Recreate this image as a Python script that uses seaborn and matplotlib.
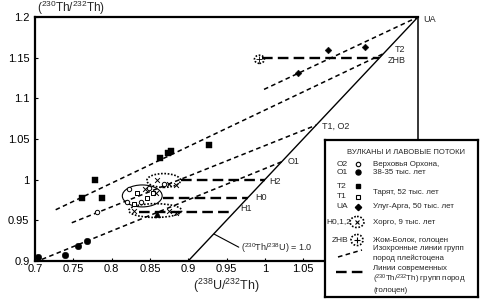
import pandas as pd
import seaborn as sns
import matplotlib.pyplot as plt
from matplotlib.patches import Ellipse
from matplotlib.ticker import FuncFormatter

# точки по группам (U/Th, Th/Th)
o1_x = [0.704, 0.739, 0.756, 0.768]
o1_y = [0.905, 0.907, 0.919, 0.925]
o2_x = [0.781, 0.823, 0.849, 0.838, 0.820, 0.868]
o2_y = [0.960, 0.988, 0.990, 0.972, 0.973, 0.995]
t1_x = [0.833, 0.854, 0.829, 0.846]
t1_y = [0.983, 0.984, 0.970, 0.977]
t2_x = [0.761, 0.778, 0.787, 0.863, 0.874, 0.878, 0.927]
t2_y = [0.978, 0.999, 0.978, 1.027, 1.033, 1.035, 1.043]
ua_x = [1.043, 1.083, 1.131]
ua_y = [1.131, 1.159, 1.163]
h_x = [0.859, 0.875, 0.884, 0.844, 0.858, 0.829, 0.875, 0.884]
h_y = [1.000, 0.995, 0.993, 0.989, 0.983, 0.962, 0.962, 0.959]
tri_x = [0.859]
tri_y = [0.958]
zhb_x = [0.993]
zhb_y = [1.148]

# изохроны плейстоцена: начало и конец на эквилинии
iso_names = ['UA', 'T2', 'T1, O2', 'O1']
iso_x0 = [0.999, 0.727, 0.748, 0.709]
iso_y0 = [1.111, 0.963, 0.947, 0.902]
iso_end = [1.2, 1.155, 1.067, 1.022]
iso_lab_off = [(5, -2), (11, 4), (6, -1), (6, 0)]

# современные линии (голоцен)
mod_names = ['ZHB', 'H2', 'H0', 'H1']
mod_x0 = [0.996, 0.891, 0.867, 0.836]
mod_y = [1.149, 1.0, 0.978, 0.96]
mod_lab_off = [(9, -2), (4, -2), (7, 0), (6, 4)]

# области
ell_x = [0.840, 0.868, 0.857, 0.993]
ell_y = [0.980, 0.999, 0.962, 1.148]
ell_w = [0.052, 0.044, 0.069, 0.013]
ell_h = [0.027, 0.017, 0.017, 0.010]
ell_ls = ['-', ':', ':', ':']

sns.set_theme(style='ticks')
plt.rcParams['font.family'] = ['Liberation Sans', 'DejaVu Sans']
plt.rcParams['mathtext.fontset'] = 'custom'
plt.rcParams['mathtext.rm'] = 'Liberation Sans'
plt.rcParams['mathtext.it'] = 'Liberation Sans:italic'
plt.rcParams['mathtext.bf'] = 'Liberation Sans:bold'
plt.rcParams['mathtext.default'] = 'regular'

fig = plt.figure(figsize=(4.8, 2.99), dpi=100)
ax = fig.add_axes([35/480, 1-261/299, 383/480, 244/299])

short_dash = (3, 2.2)
long_dash = (4.5, 2.2)

# эквилиния
sns.lineplot(x=[0.9, 1.2], y=[0.9, 1.2], ax=ax, color='black', lw=1.0, sort=False, estimator=None)

for name, x0, y0, xe, off in zip(iso_names, iso_x0, iso_y0, iso_end, iso_lab_off):
    sns.lineplot(x=[x0, xe], y=[y0, xe], ax=ax, color='black', lw=1.1,
                 sort=False, estimator=None).lines[-1].set_dashes(short_dash)
    ax.annotate(name, xy=(xe, xe), xytext=off, textcoords='offset pixels',
                ha='left', va='center', fontsize=6.5)

for name, x0, y, off in zip(mod_names, mod_x0, mod_y, mod_lab_off):
    sns.lineplot(x=[x0, y], y=[y, y], ax=ax, color='black', lw=1.7,
                 sort=False, estimator=None).lines[-1].set_dashes(long_dash)
    ax.annotate(name, xy=(y, y), xytext=off, textcoords='offset pixels',
                ha='left', va='center', fontsize=6.5)

for ex, ey, ew, eh, ls in zip(ell_x, ell_y, ell_w, ell_h, ell_ls):
    ax.add_patch(Ellipse((ex, ey), ew, eh, fill=False, ec='black',
                         lw=0.8 if ls == '-' else 1.2, ls=ls if ls == '-' else (0, (1, 1))))

sns.scatterplot(x=o1_x, y=o1_y, ax=ax, marker='o', s=22, color='black', ec='black', zorder=5)
sns.scatterplot(x=o2_x, y=o2_y, ax=ax, marker='o', s=10, facecolor='white', ec='black', lw=0.7, zorder=5)
sns.scatterplot(x=t1_x, y=t1_y, ax=ax, marker='s', s=8, facecolor='white', ec='black', lw=0.7, zorder=5)
sns.scatterplot(x=t2_x, y=t2_y, ax=ax, marker='s', s=14, color='black', ec='black', zorder=5)
sns.scatterplot(x=ua_x, y=ua_y, ax=ax, marker='D', s=12, color='black', ec='black', zorder=5)
sns.scatterplot(x=h_x, y=h_y, ax=ax, marker='x', s=12, color='black', lw=0.7, zorder=5)
sns.scatterplot(x=tri_x, y=tri_y, ax=ax, marker='^', s=22, color='black', ec='black', zorder=5)
sns.scatterplot(x=zhb_x, y=zhb_y, ax=ax, marker='+', s=14, color='black', lw=0.6, zorder=5)

# подпись эквилинии
ax.plot([0.934, 0.966], [0.933, 0.917], color='black', lw=0.8)
ax.text(0.969, 0.916, r'($^{230}$Th/$^{238}$U) = 1.0', fontsize=6.5, ha='left', va='center')

ax.set_xlim(0.7, 1.2)
ax.set_ylim(0.9, 1.2)
ax.set_xticks([0.7, 0.75, 0.8, 0.85, 0.9, 0.95, 1.0, 1.05])
ax.set_yticks([0.9, 0.95, 1.0, 1.05, 1.1, 1.15, 1.2])
fmt = FuncFormatter(lambda v, p: f'{v:g}')
ax.xaxis.set_major_formatter(fmt)
ax.yaxis.set_major_formatter(fmt)
ax.tick_params(direction='in', length=2.5, width=0.8, labelsize=8, pad=2, colors='black')
ax.tick_params(axis='y', pad=4)
for side in ['left', 'bottom', 'top']:
    ax.spines[side].set_linewidth(1.6)
ax.spines['right'].set_linewidth(1.1)
for sp in ax.spines.values():
    sp.set_color('black')
ax.set_xlabel(r'($^{238}$U/$^{232}$Th)', fontsize=9, labelpad=2)
ax.set_ylabel('')
fig.text(37/480, 1-12/299, r'($^{230}$Th/$^{232}$Th)', fontsize=8.5, ha='left', va='baseline')

# легенда
lg = fig.add_axes([325/480, 1-297/299, 153/480, 157/299], zorder=10)
lg.set_xlim(325, 478)
lg.set_ylim(297, 140)
lg.set_xticks([])
lg.set_yticks([])
lg.set_facecolor('white')
for sp in lg.spines.values():
    sp.set_linewidth(1.6)
    sp.set_color('black')

lg.text(406, 153, 'ВУЛКАНЫ И ЛАВОВЫЕ ПОТОКИ', fontsize=5.5, ha='center', va='center')
codes = [('O2', 342, 164), ('O1', 342, 172), ('T2', 342, 186), ('T1', 342, 197),
         ('UA', 342, 207), ('H0,1,2', 339, 222), ('ZHB', 340, 240)]
for c, cx, cy in codes:
    lg.text(cx, cy, c, fontsize=6, ha='center', va='center')
lg.plot([358], [164], 'o', ms=3.2, mfc='white', mec='black', mew=0.8)
lg.plot([358], [172], 'o', ms=3.6, color='black')
lg.plot([358], [186], 's', ms=3.2, color='black')
lg.plot([358], [197], 's', ms=3.0, mfc='white', mec='black', mew=0.8)
lg.plot([358], [207], 'D', ms=3.2, color='black')
lg.add_patch(Ellipse((357, 222), 14, 11, fill=False, ec='black', lw=1.2, ls=(0, (1, 1))))
lg.plot([357], [222], 'x', ms=3.5, color='black', mew=0.8)
lg.add_patch(Ellipse((357, 240), 12, 11, fill=False, ec='black', lw=1.2, ls=(0, (1, 1))))
lg.plot([357], [240], '+', ms=4, color='black', mew=0.8)
lg.plot([338, 362], [257, 250], color='black', lw=1.1, dashes=short_dash)
lg.plot([336, 365], [272, 272], color='black', lw=1.7, dashes=long_dash)

texts = [('Верховья Орхона,', 164), ('38-35 тыс. лет', 172), ('Тарят, 52 тыс. лет', 192),
         ('Улуг-Арга, 50 тыс. лет', 207), ('Хорго, 9 тыс. лет', 222),
         ('Жом-Болок, голоцен', 240), ('Изохронные линии групп', 249),
         ('пород плейстоцена', 258), ('Линии современных', 268),
         (r'($^{230}$Th/$^{232}$Th) групп пород', 279), ('(голоцен)', 290)]
for t, ty in texts:
    lg.text(373, ty, t, fontsize=5.7, ha='left', va='center')

fig.savefig('out.png', dpi=100)
